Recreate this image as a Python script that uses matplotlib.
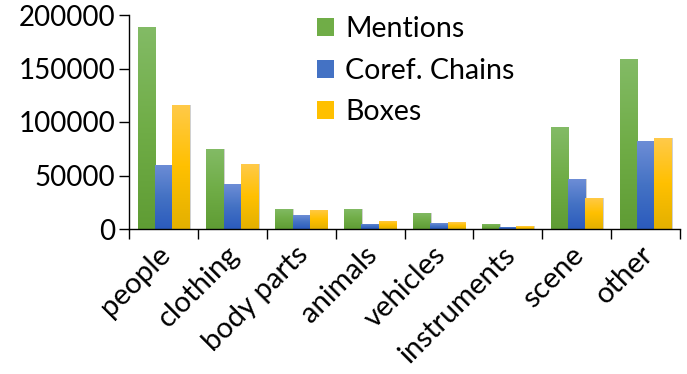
import matplotlib
matplotlib.use("Agg")
import matplotlib.pyplot as plt
import matplotlib.transforms as mtransforms
import numpy as np
from matplotlib.colors import LinearSegmentedColormap
from matplotlib.patches import Patch

categories = ["people", "clothing", "body parts", "animals", "vehicles",
              "instruments", "scene", "other"]
mentions = [189000, 75000, 18700, 18700, 15000, 4700, 95300, 159000]
coref_chains = [60000, 42000, 13000, 4700, 5600, 1900, 46700, 82200]
boxes = [116000, 60500, 17800, 7500, 6500, 2800, 29000, 85000]

series = [
    ("Mentions", mentions, ["#83bb66", "#70ad47", "#5f9c34"]),
    ("Coref. Chains", coref_chains, ["#6d8dd6", "#4472c4", "#2b5bbd"]),
    ("Boxes", boxes, ["#ffca4a", "#ffc000", "#e3b000"]),
]

plt.rcParams["font.family"] = ["Lato", "DejaVu Sans"]

fig = plt.figure(figsize=(6.87, 3.74), dpi=100)
ax = fig.add_axes([129 / 687, 145 / 374, (680 - 129) / 687, (229 - 15) / 374])

x = np.arange(len(categories))
width = 0.25
grad = np.linspace(0, 1, 256).reshape(-1, 1)

legend_handles = []
for i, (name, vals, cols) in enumerate(series):
    offs = x + (i - 1) * width
    bars = ax.bar(offs, vals, width, color=cols[1], linewidth=0, zorder=2)
    cmap = LinearSegmentedColormap.from_list(name, cols[::-1])
    for b in bars:
        x0, h = b.get_x(), b.get_height()
        # soft shadow
        ax.bar(x0 + b.get_width() / 2 + 0.02, h, b.get_width(), bottom=0,
               color="#d0d0d0", linewidth=0, zorder=1)
        im = ax.imshow(grad, extent=[x0, x0 + b.get_width(), 0, h],
                       origin="lower", aspect="auto", cmap=cmap, zorder=3)
        im.set_clip_path(b)
    legend_handles.append(Patch(facecolor=cols[1], label=name))

ax.set_xlim(-0.5, len(categories) - 0.5)
ax.set_ylim(0, 200000)

for s in ["top", "right"]:
    ax.spines[s].set_visible(False)
for s in ["left", "bottom"]:
    ax.spines[s].set_linewidth(1.0)
    ax.spines[s].set_zorder(5)

ax.set_yticks([0, 50000, 100000, 150000, 200000])
ax.set_yticklabels(["0", "50000", "100000", "150000", "200000"], fontsize=20)
ax.tick_params(axis="y", length=7, width=1, pad=3)

ax.set_xticks(np.arange(len(categories) + 1) - 0.5)
ax.set_xticklabels([])
ax.tick_params(axis="x", which="major", length=7, width=1)
ax.set_xticks(x, minor=True)
ax.set_xticklabels(categories, minor=True, rotation=45, ha="right",
                   rotation_mode="anchor", fontsize=21)
ax.tick_params(axis="x", which="minor", length=0, pad=9)
shift = mtransforms.ScaledTranslation(-6 / 100, 0, fig.dpi_scale_trans)
for lbl in ax.get_xticklabels(minor=True):
    lbl.set_transform(lbl.get_transform() + shift)

ax.legend(handles=legend_handles, loc="upper left",
          bbox_to_anchor=(317 / 687, 1 - 16 / 374),
          bbox_transform=fig.transFigure, frameon=False, fontsize=20.5,
          borderpad=0, borderaxespad=0,
          handlelength=0.6, handleheight=0.6, handletextpad=0.4,
          labelspacing=0.55)

fig.savefig("out.png", dpi=100)
